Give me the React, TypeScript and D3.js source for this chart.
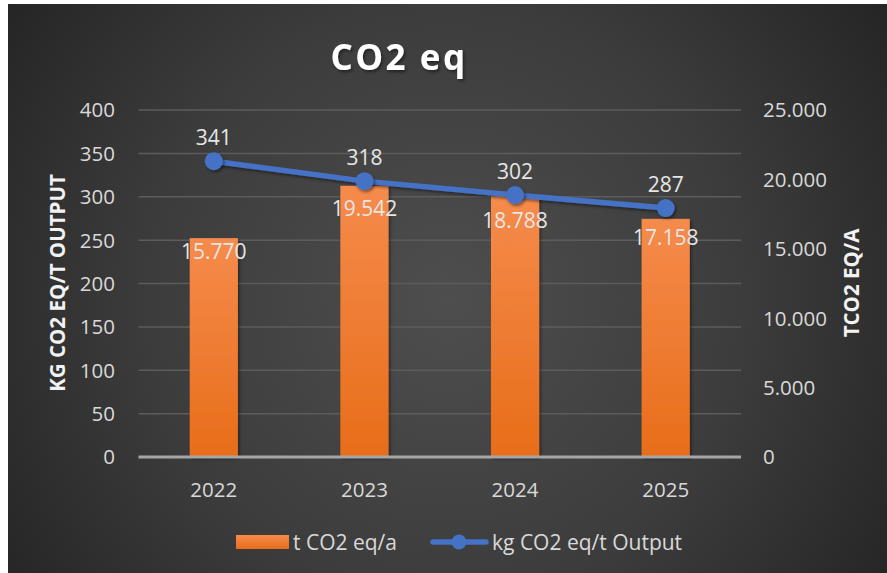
import React from "react";
import * as d3 from "d3";

const years = ["2022", "2023", "2024", "2025"];
const tonsCO2 = [15770, 19542, 18788, 17158];
const kgPerTon = [341, 318, 302, 287];
const leftTicks = [0, 50, 100, 150, 200, 250, 300, 350, 400];
const rightTicks = [0, 5000, 10000, 15000, 20000, 25000];

// layout-only nudges for the bar value labels (below bar top)
const barLabelDy = [13, 23, 24, 19];

const W = 887;
const H = 573;
const plot = { left: 138.5, right: 741, top: 110, bottom: 457 };
const FONT = "'Open Sans', 'Noto Sans', sans-serif";
const fmt = (v: number) =>
  v === 0 ? "0" : d3.format(",")(v).replace(/,/g, ".");

export default function App() {
  const x = d3
    .scaleBand<string>()
    .domain(years)
    .range([plot.left, plot.right])
    .paddingInner(0.68)
    .paddingOuter(0.34);
  const yL = d3.scaleLinear().domain([0, 400]).range([plot.bottom, plot.top]);
  const yR = d3.scaleLinear().domain([0, 25000]).range([plot.bottom, plot.top]);
  const cx = (y: string) => (x(y) as number) + x.bandwidth() / 2;
  const line = d3
    .line<number>()
    .x((_, i) => cx(years[i]))
    .y((d) => yL(d));

  return (
    <svg
      width={W}
      height={H}
      style={{ position: "absolute", left: 0, top: 0 }}
      fontFamily={FONT}
    >
      <defs>
        <radialGradient
          id="bg"
          gradientUnits="userSpaceOnUse"
          cx={447}
          cy={300}
          r={540}
        >
          <stop offset="0" stopColor="#4e4e4e" />
          <stop offset="0.55" stopColor="#3c3c3c" />
          <stop offset="1" stopColor="#242424" />
        </radialGradient>
        <linearGradient id="bar" x1="0" y1="0" x2="0" y2="1">
          <stop offset="0" stopColor="#f58b4c" />
          <stop offset="1" stopColor="#e86d19" />
        </linearGradient>
        <filter id="sh" x="-20%" y="-20%" width="140%" height="140%">
          <feDropShadow dx="1.5" dy="2" stdDeviation="1.5" floodColor="#000" floodOpacity="0.45" />
        </filter>
      </defs>
      <rect x={0} y={0} width={W} height={H} fill="#ffffff" />
      <rect x={8} y={4} width={W - 8} height={H - 4} fill="url(#bg)" />

      {/* title */}
      <text
        x={399}
        y={70}
        textAnchor="middle"
        fontSize={35}
        fontWeight={700}
        letterSpacing={2.5}
        fill="#ffffff"
        filter="url(#sh)"
      >
        CO2 eq
      </text>

      {/* gridlines */}
      {leftTicks.slice(1).map((t) => (
        <line
          key={t}
          x1={plot.left}
          x2={plot.right}
          y1={yL(t)}
          y2={yL(t)}
          stroke="#5c5c5c"
          strokeWidth={1.5}
        />
      ))}

      {/* bars */}
      {tonsCO2.map((v, i) => (
        <rect
          key={years[i]}
          x={x(years[i])}
          y={yR(v)}
          width={x.bandwidth()}
          height={plot.bottom - yR(v)}
          fill="url(#bar)"
          filter="url(#sh)"
        />
      ))}

      {/* baseline */}
      <line
        x1={plot.left}
        x2={plot.right}
        y1={plot.bottom}
        y2={plot.bottom}
        stroke="#a6a6a6"
        strokeWidth={3}
      />

      {/* bar labels */}
      {tonsCO2.map((v, i) => (
        <text
          key={"bl" + i}
          x={cx(years[i])}
          y={yR(v) + barLabelDy[i]}
          dy="0.36em"
          textAnchor="middle"
          fontSize={21}
          fill="#e6e6e6"
        >
          {fmt(v)}
        </text>
      ))}

      {/* line */}
      <path
        d={line(kgPerTon) || ""}
        fill="none"
        stroke="#4472c4"
        strokeWidth={5.5}
        strokeLinecap="round"
        filter="url(#sh)"
      />
      {kgPerTon.map((v, i) => (
        <circle
          key={"m" + i}
          cx={cx(years[i])}
          cy={yL(v)}
          r={9}
          fill="#4472c4"
          filter="url(#sh)"
        />
      ))}
      {kgPerTon.map((v, i) => (
        <text
          key={"ll" + i}
          x={cx(years[i])}
          y={yL(v) - 24}
          dy="0.36em"
          textAnchor="middle"
          fontSize={21}
          fill="#e6e6e6"
        >
          {v}
        </text>
      ))}

      {/* left axis ticks */}
      {leftTicks.map((t) => (
        <text
          key={"lt" + t}
          x={115}
          y={yL(t)}
          dy="0.36em"
          textAnchor="end"
          fontSize={20.5}
          fill="#d9d9d9"
        >
          {t}
        </text>
      ))}
      {/* right axis ticks */}
      {rightTicks.map((t) => (
        <text
          key={"rt" + t}
          x={763}
          y={yR(t)}
          dy="0.36em"
          textAnchor="start"
          fontSize={20.5}
          fill="#d9d9d9"
        >
          {fmt(t)}
        </text>
      ))}
      {/* category labels */}
      {years.map((yv) => (
        <text
          key={"c" + yv}
          x={cx(yv)}
          y={490}
          dy="0.36em"
          textAnchor="middle"
          fontSize={20.5}
          fill="#d9d9d9"
        >
          {yv}
        </text>
      ))}

      {/* axis titles */}
      <text
        transform="translate(58,283) rotate(-90)"
        textAnchor="middle"
        dy="0.36em"
        fontSize={20.5}
        fontWeight={700}
        fill="#f2f2f2"
      >
        KG CO2 EQ/T OUTPUT
      </text>
      <text
        transform="translate(852,283) rotate(-90)"
        textAnchor="middle"
        dy="0.36em"
        fontSize={20.5}
        fontWeight={700}
        fill="#f2f2f2"
      >
        TCO2 EQ/A
      </text>

      {/* legend */}
      <rect x={236} y={535} width={53} height={14} fill="url(#bar)" />
      <text x={293} y={542} dy="0.36em" fontSize={21} fill="#d9d9d9">
        t CO2 eq/a
      </text>
      <line
        x1={433}
        x2={486}
        y1={542}
        y2={542}
        stroke="#4472c4"
        strokeWidth={5.5}
        strokeLinecap="round"
      />
      <circle cx={459} cy={542} r={7.5} fill="#4472c4" />
      <text x={492} y={542} dy="0.36em" fontSize={21} fill="#d9d9d9">
        kg CO2 eq/t Output
      </text>
    </svg>
  );
}
